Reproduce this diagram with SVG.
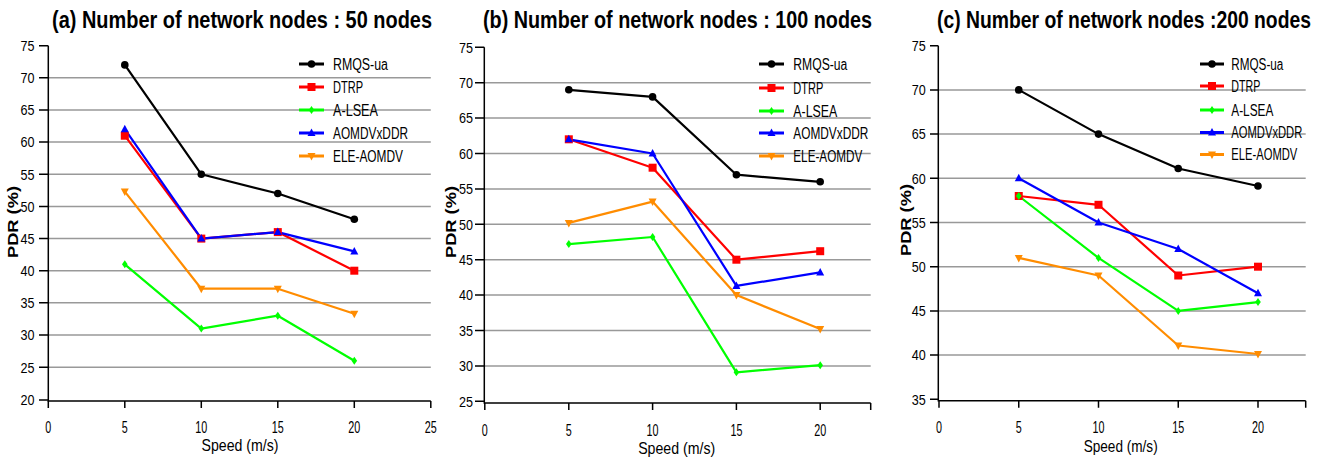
<svg xmlns="http://www.w3.org/2000/svg" xmlns:xlink="http://www.w3.org/1999/xlink" width="1324" height="463" viewBox="0 0 1324 463">
<style>
text{font-family:"Liberation Sans",Arial,sans-serif;fill:#000}
.title{font-size:24px;font-weight:bold}
.yl{font-size:15px;text-anchor:end}
.xl{font-size:17px;text-anchor:middle}
.xt{font-size:17px;text-anchor:middle}
.yt{font-size:14px;font-weight:bold;text-anchor:middle}
.lg{font-size:16px}
.grid{stroke:#999;stroke-width:1.5}
.axis{stroke:#000;stroke-width:1.5;fill:none}
.s{fill:none;stroke-width:2.2;stroke-linejoin:round}
.lgl{stroke-width:3}
.k{stroke:#000}.r{stroke:#f00}.g{stroke:#0f0}.b{stroke:#00f}.o{stroke:#ff8c00}
</style>
<defs>
<circle id="mc" r="3.8" fill="#000"/>
<rect id="ms" x="-4" y="-4" width="8" height="8" fill="#f00"/>
<path id="md" d="M0,-4 L2.8,0 L0,4 L-2.8,0Z" fill="#0f0"/>
<path id="mu" d="M0,-4.5 L4,3 L-4,3Z" fill="#00f"/>
<path id="mv" d="M0,4.5 L4,-3 L-4,-3Z" fill="#ff8c00"/>
</defs>
<rect width="1324" height="463" fill="#fff"/>

<!-- Chart A -->
<g id="chart-a">
<text class="title" x="52" y="28" textLength="380" lengthAdjust="spacingAndGlyphs">(a) Number of network nodes : 50 nodes</text>
<g id="grid-a">
<line class="grid" x1="48.3" y1="367.15" x2="430.8" y2="367.15"/>
<line class="grid" x1="48.3" y1="335" x2="430.8" y2="335"/>
<line class="grid" x1="48.3" y1="302.85" x2="430.8" y2="302.85"/>
<line class="grid" x1="48.3" y1="270.7" x2="430.8" y2="270.7"/>
<line class="grid" x1="48.3" y1="238.55" x2="430.8" y2="238.55"/>
<line class="grid" x1="48.3" y1="206.4" x2="430.8" y2="206.4"/>
<line class="grid" x1="48.3" y1="174.25" x2="430.8" y2="174.25"/>
<line class="grid" x1="48.3" y1="142.1" x2="430.8" y2="142.1"/>
<line class="grid" x1="48.3" y1="109.95" x2="430.8" y2="109.95"/>
<line class="grid" x1="48.3" y1="77.8" x2="430.8" y2="77.8"/>
</g>
<g id="axes-a">
<path class="axis" d="M48.3,45.7 V401 H430.8"/>
<path class="axis" d="M39,400 H48.3 M39,367.15 H48.3 M39,335 H48.3 M39,302.85 H48.3 M39,270.7 H48.3 M39,238.55 H48.3 M39,206.4 H48.3 M39,174.25 H48.3 M39,142.1 H48.3 M39,109.95 H48.3 M39,77.8 H48.3 M39,45.7 H48.3"/>
<path class="axis" d="M48.3,401 V408 M124.8,401 V408 M201.3,401 V408 M277.8,401 V408 M354.3,401 V408 M430.8,401 V408"/>
<text class="yl" x="34.5" y="405.3" textLength="14" lengthAdjust="spacingAndGlyphs">20</text>
<text class="yl" x="34.5" y="372.5" textLength="14" lengthAdjust="spacingAndGlyphs">25</text>
<text class="yl" x="34.5" y="340.3" textLength="14" lengthAdjust="spacingAndGlyphs">30</text>
<text class="yl" x="34.5" y="308.2" textLength="14" lengthAdjust="spacingAndGlyphs">35</text>
<text class="yl" x="34.5" y="276" textLength="14" lengthAdjust="spacingAndGlyphs">40</text>
<text class="yl" x="34.5" y="243.9" textLength="14" lengthAdjust="spacingAndGlyphs">45</text>
<text class="yl" x="34.5" y="211.7" textLength="14" lengthAdjust="spacingAndGlyphs">50</text>
<text class="yl" x="34.5" y="179.6" textLength="14" lengthAdjust="spacingAndGlyphs">55</text>
<text class="yl" x="34.5" y="147.4" textLength="14" lengthAdjust="spacingAndGlyphs">60</text>
<text class="yl" x="34.5" y="115.3" textLength="14" lengthAdjust="spacingAndGlyphs">65</text>
<text class="yl" x="34.5" y="83.1" textLength="14" lengthAdjust="spacingAndGlyphs">70</text>
<text class="yl" x="34.5" y="51" textLength="14" lengthAdjust="spacingAndGlyphs">75</text>
<text class="xl" x="48.3" y="432.5" textLength="6" lengthAdjust="spacingAndGlyphs">0</text>
<text class="xl" x="124.8" y="432.5" textLength="6" lengthAdjust="spacingAndGlyphs">5</text>
<text class="xl" x="201.3" y="432.5" textLength="12" lengthAdjust="spacingAndGlyphs">10</text>
<text class="xl" x="277.8" y="432.5" textLength="12" lengthAdjust="spacingAndGlyphs">15</text>
<text class="xl" x="354.3" y="432.5" textLength="12" lengthAdjust="spacingAndGlyphs">20</text>
<text class="xl" x="430.8" y="432.5" textLength="12" lengthAdjust="spacingAndGlyphs">25</text>
<text class="xt" x="240" y="450.5" textLength="77" lengthAdjust="spacingAndGlyphs">Speed (m/s)</text>
<text class="yt" transform="translate(17.5,222) rotate(-90)" textLength="72" lengthAdjust="spacingAndGlyphs">PDR (%)</text>
</g>
<g id="series-a">
<polyline class="s k" points="124.8,64.9 201.3,174.3 277.8,193.5 354.3,219.3"/>
<polyline class="s r" points="124.8,135.7 201.3,238.6 277.8,232.1 354.3,270.7"/>
<polyline class="s g" points="124.8,264.3 201.3,328.6 277.8,315.7 354.3,360.7"/>
<polyline class="s b" points="124.8,129.2 201.3,238.6 277.8,232.1 354.3,251.4"/>
<polyline class="s o" points="124.8,191.6 201.3,288.7 277.8,288.7 354.3,313.8"/>
<use href="#mc" x="124.8" y="64.9"/><use href="#mc" x="201.3" y="174.3"/><use href="#mc" x="277.8" y="193.5"/><use href="#mc" x="354.3" y="219.3"/>
<use href="#ms" x="124.8" y="135.7"/><use href="#ms" x="201.3" y="238.6"/><use href="#ms" x="277.8" y="232.1"/><use href="#ms" x="354.3" y="270.7"/>
<use href="#md" x="124.8" y="264.3"/><use href="#md" x="201.3" y="328.6"/><use href="#md" x="277.8" y="315.7"/><use href="#md" x="354.3" y="360.7"/>
<use href="#mu" x="124.8" y="129.2"/><use href="#mu" x="201.3" y="238.6"/><use href="#mu" x="277.8" y="232.1"/><use href="#mu" x="354.3" y="251.4"/>
<use href="#mv" x="124.8" y="191.6"/><use href="#mv" x="201.3" y="288.7"/><use href="#mv" x="277.8" y="288.7"/><use href="#mv" x="354.3" y="313.8"/>
</g>
<g id="legend-a">
<line class="lgl k" x1="299" y1="64" x2="324" y2="64"/><use href="#mc" x="311.5" y="64"/>
<text class="lg" x="333" y="69.8" textLength="55" lengthAdjust="spacingAndGlyphs">RMQS-ua</text>
<line class="lgl r" x1="299" y1="87" x2="324" y2="87"/><use href="#ms" x="311.5" y="87"/>
<text class="lg" x="333" y="92.8" textLength="30" lengthAdjust="spacingAndGlyphs">DTRP</text>
<line class="lgl g" x1="299" y1="110" x2="324" y2="110"/><use href="#md" x="311.5" y="110"/>
<text class="lg" x="333" y="115.8" textLength="45" lengthAdjust="spacingAndGlyphs">A-LSEA</text>
<line class="lgl b" x1="299" y1="133" x2="324" y2="133"/><use href="#mu" x="311.5" y="133"/>
<text class="lg" x="333" y="138.8" textLength="75" lengthAdjust="spacingAndGlyphs">AOMDVxDDR</text>
<line class="lgl o" x1="299" y1="156" x2="324" y2="156"/><use href="#mv" x="311.5" y="156"/>
<text class="lg" x="333" y="161.8" textLength="70" lengthAdjust="spacingAndGlyphs">ELE-AOMDV</text>
</g>
</g>

<!-- Chart B -->
<g id="chart-b">
<text class="title" x="483" y="28" textLength="389" lengthAdjust="spacingAndGlyphs">(b) Number of network nodes : 100 nodes</text>
<g id="grid-b">
<line class="grid" x1="484.3" y1="365.9" x2="870.7" y2="365.9"/>
<line class="grid" x1="484.3" y1="330.5" x2="870.7" y2="330.5"/>
<line class="grid" x1="484.3" y1="295.1" x2="870.7" y2="295.1"/>
<line class="grid" x1="484.3" y1="259.7" x2="870.7" y2="259.7"/>
<line class="grid" x1="484.3" y1="224.3" x2="870.7" y2="224.3"/>
<line class="grid" x1="484.3" y1="188.9" x2="870.7" y2="188.9"/>
<line class="grid" x1="484.3" y1="153.5" x2="870.7" y2="153.5"/>
<line class="grid" x1="484.3" y1="118.1" x2="870.7" y2="118.1"/>
<line class="grid" x1="484.3" y1="82.7" x2="870.7" y2="82.7"/>
</g>
<g id="axes-b">
<path class="axis" d="M484.3,47.3 V403 H870.7"/>
<path class="axis" d="M475,401.3 H484.3 M475,365.9 H484.3 M475,330.5 H484.3 M475,295.1 H484.3 M475,259.7 H484.3 M475,224.3 H484.3 M475,188.9 H484.3 M475,153.5 H484.3 M475,118.1 H484.3 M475,82.7 H484.3 M475,47.3 H484.3"/>
<path class="axis" d="M484.8,403 V410 M568.8,403 V410 M652.6,403 V410 M736.4,403 V410 M820.2,403 V410 M870.7,403 V410"/>
<text class="yl" x="473" y="406.6" textLength="14" lengthAdjust="spacingAndGlyphs">25</text>
<text class="yl" x="473" y="371.2" textLength="14" lengthAdjust="spacingAndGlyphs">30</text>
<text class="yl" x="473" y="335.8" textLength="14" lengthAdjust="spacingAndGlyphs">35</text>
<text class="yl" x="473" y="300.4" textLength="14" lengthAdjust="spacingAndGlyphs">40</text>
<text class="yl" x="473" y="265" textLength="14" lengthAdjust="spacingAndGlyphs">45</text>
<text class="yl" x="473" y="229.6" textLength="14" lengthAdjust="spacingAndGlyphs">50</text>
<text class="yl" x="473" y="194.2" textLength="14" lengthAdjust="spacingAndGlyphs">55</text>
<text class="yl" x="473" y="158.8" textLength="14" lengthAdjust="spacingAndGlyphs">60</text>
<text class="yl" x="473" y="123.4" textLength="14" lengthAdjust="spacingAndGlyphs">65</text>
<text class="yl" x="473" y="88" textLength="14" lengthAdjust="spacingAndGlyphs">70</text>
<text class="yl" x="473" y="52.6" textLength="14" lengthAdjust="spacingAndGlyphs">75</text>
<text class="xl" x="484.8" y="435.5" textLength="6" lengthAdjust="spacingAndGlyphs">0</text>
<text class="xl" x="568.8" y="435.5" textLength="6" lengthAdjust="spacingAndGlyphs">5</text>
<text class="xl" x="652.6" y="435.5" textLength="12" lengthAdjust="spacingAndGlyphs">10</text>
<text class="xl" x="736.4" y="435.5" textLength="12" lengthAdjust="spacingAndGlyphs">15</text>
<text class="xl" x="820.2" y="435.5" textLength="12" lengthAdjust="spacingAndGlyphs">20</text>
<text class="xt" x="676.7" y="453.5" textLength="77" lengthAdjust="spacingAndGlyphs">Speed (m/s)</text>
<text class="yt" transform="translate(455.5,222) rotate(-90)" textLength="72" lengthAdjust="spacingAndGlyphs">PDR (%)</text>
</g>
<g id="series-b">
<polyline class="s k" points="568.8,89.8 652.6,96.9 736.4,174.7 820.2,181.8"/>
<polyline class="s r" points="568.8,139.3 652.6,167.7 736.4,259.7 820.2,251.2"/>
<polyline class="s g" points="568.8,244.1 652.6,237 736.4,372.3 820.2,365.2"/>
<polyline class="s b" points="568.8,139.3 652.6,153.5 736.4,285.9 820.2,272.4"/>
<polyline class="s o" points="568.8,222.9 652.6,201.6 736.4,295.1 820.2,329.1"/>
<use href="#mc" x="568.8" y="89.8"/><use href="#mc" x="652.6" y="96.9"/><use href="#mc" x="736.4" y="174.7"/><use href="#mc" x="820.2" y="181.8"/>
<use href="#ms" x="568.8" y="139.3"/><use href="#ms" x="652.6" y="167.7"/><use href="#ms" x="736.4" y="259.7"/><use href="#ms" x="820.2" y="251.2"/>
<use href="#md" x="568.8" y="244.1"/><use href="#md" x="652.6" y="237"/><use href="#md" x="736.4" y="372.3"/><use href="#md" x="820.2" y="365.2"/>
<use href="#mu" x="568.8" y="139.3"/><use href="#mu" x="652.6" y="153.5"/><use href="#mu" x="736.4" y="285.9"/><use href="#mu" x="820.2" y="272.4"/>
<use href="#mv" x="568.8" y="222.9"/><use href="#mv" x="652.6" y="201.6"/><use href="#mv" x="736.4" y="295.1"/><use href="#mv" x="820.2" y="329.1"/>
</g>
<g id="legend-b">
<line class="lgl k" x1="759" y1="64" x2="784" y2="64"/><use href="#mc" x="771.5" y="64"/>
<text class="lg" x="793.3" y="69.8" textLength="54" lengthAdjust="spacingAndGlyphs">RMQS-ua</text>
<line class="lgl r" x1="759" y1="88" x2="784" y2="88"/><use href="#ms" x="771.5" y="88"/>
<text class="lg" x="793.3" y="93.8" textLength="30" lengthAdjust="spacingAndGlyphs">DTRP</text>
<line class="lgl g" x1="759" y1="111" x2="784" y2="111"/><use href="#md" x="771.5" y="111"/>
<text class="lg" x="793.3" y="116.8" textLength="44" lengthAdjust="spacingAndGlyphs">A-LSEA</text>
<line class="lgl b" x1="759" y1="133" x2="784" y2="133"/><use href="#mu" x="771.5" y="133"/>
<text class="lg" x="793.3" y="138.8" textLength="75" lengthAdjust="spacingAndGlyphs">AOMDVxDDR</text>
<line class="lgl o" x1="759" y1="156" x2="784" y2="156"/><use href="#mv" x="771.5" y="156"/>
<text class="lg" x="793.3" y="161.8" textLength="69" lengthAdjust="spacingAndGlyphs">ELE-AOMDV</text>
</g>
</g>

<!-- Chart C -->
<g id="chart-c">
<text class="title" x="937" y="28" textLength="374" lengthAdjust="spacingAndGlyphs">(c) Number of network nodes :200 nodes</text>
<g id="grid-c">
<line class="grid" x1="938.3" y1="355.1" x2="1305.7" y2="355.1"/>
<line class="grid" x1="938.3" y1="310.9" x2="1305.7" y2="310.9"/>
<line class="grid" x1="938.3" y1="266.7" x2="1305.7" y2="266.7"/>
<line class="grid" x1="938.3" y1="222.5" x2="1305.7" y2="222.5"/>
<line class="grid" x1="938.3" y1="178.3" x2="1305.7" y2="178.3"/>
<line class="grid" x1="938.3" y1="134.1" x2="1305.7" y2="134.1"/>
<line class="grid" x1="938.3" y1="89.9" x2="1305.7" y2="89.9"/>
</g>
<g id="axes-c">
<path class="axis" d="M938.3,45.7 V400.7 H1305.7"/>
<path class="axis" d="M930,399.3 H938.3 M930,355.1 H938.3 M930,310.9 H938.3 M930,266.7 H938.3 M930,222.5 H938.3 M930,178.3 H938.3 M930,134.1 H938.3 M930,89.9 H938.3 M930,45.7 H938.3"/>
<path class="axis" d="M939,400.7 V407.7 M1018.75,400.7 V407.7 M1098.5,400.7 V407.7 M1178.25,400.7 V407.7 M1258,400.7 V407.7 M1305.7,400.7 V407.7"/>
<text class="yl" x="925.7" y="404.6" textLength="14" lengthAdjust="spacingAndGlyphs">35</text>
<text class="yl" x="925.7" y="360.4" textLength="14" lengthAdjust="spacingAndGlyphs">40</text>
<text class="yl" x="925.7" y="316.2" textLength="14" lengthAdjust="spacingAndGlyphs">45</text>
<text class="yl" x="925.7" y="272" textLength="14" lengthAdjust="spacingAndGlyphs">50</text>
<text class="yl" x="925.7" y="227.8" textLength="14" lengthAdjust="spacingAndGlyphs">55</text>
<text class="yl" x="925.7" y="183.6" textLength="14" lengthAdjust="spacingAndGlyphs">60</text>
<text class="yl" x="925.7" y="139.4" textLength="14" lengthAdjust="spacingAndGlyphs">65</text>
<text class="yl" x="925.7" y="95.2" textLength="14" lengthAdjust="spacingAndGlyphs">70</text>
<text class="yl" x="925.7" y="51" textLength="14" lengthAdjust="spacingAndGlyphs">75</text>
<text class="xl" x="939" y="433.2" textLength="6" lengthAdjust="spacingAndGlyphs">0</text>
<text class="xl" x="1018.75" y="433.2" textLength="6" lengthAdjust="spacingAndGlyphs">5</text>
<text class="xl" x="1098.5" y="433.2" textLength="12" lengthAdjust="spacingAndGlyphs">10</text>
<text class="xl" x="1178.25" y="433.2" textLength="12" lengthAdjust="spacingAndGlyphs">15</text>
<text class="xl" x="1258" y="433.2" textLength="12" lengthAdjust="spacingAndGlyphs">20</text>
<text class="xt" x="1120.7" y="452" textLength="74" lengthAdjust="spacingAndGlyphs">Speed (m/s)</text>
<text class="yt" transform="translate(911,220) rotate(-90)" textLength="72" lengthAdjust="spacingAndGlyphs">PDR (%)</text>
</g>
<g id="series-c">
<polyline class="s k" points="1018.75,89.9 1098.5,134.1 1178.25,168.5 1258,186"/>
<polyline class="s r" points="1018.75,196 1098.5,204.8 1178.25,275.5 1258,266.7"/>
<polyline class="s g" points="1018.75,196 1098.5,257.9 1178.25,310.9 1258,302.1"/>
<polyline class="s b" points="1018.75,178.3 1098.5,222.5 1178.25,249 1258,293.2"/>
<polyline class="s o" points="1018.75,257.9 1098.5,275.5 1178.25,345.5 1258,354"/>
<use href="#mc" x="1018.75" y="89.9"/><use href="#mc" x="1098.5" y="134.1"/><use href="#mc" x="1178.25" y="168.5"/><use href="#mc" x="1258" y="186"/>
<use href="#ms" x="1018.75" y="196"/><use href="#ms" x="1098.5" y="204.8"/><use href="#ms" x="1178.25" y="275.5"/><use href="#ms" x="1258" y="266.7"/>
<use href="#md" x="1018.75" y="196"/><use href="#md" x="1098.5" y="257.9"/><use href="#md" x="1178.25" y="310.9"/><use href="#md" x="1258" y="302.1"/>
<use href="#mu" x="1018.75" y="178.3"/><use href="#mu" x="1098.5" y="222.5"/><use href="#mu" x="1178.25" y="249"/><use href="#mu" x="1258" y="293.2"/>
<use href="#mv" x="1018.75" y="257.9"/><use href="#mv" x="1098.5" y="275.5"/><use href="#mv" x="1178.25" y="345.5"/><use href="#mv" x="1258" y="354"/>
</g>
<g id="legend-c">
<line class="lgl k" x1="1200" y1="64" x2="1224" y2="64"/><use href="#mc" x="1212" y="64"/>
<text class="lg" x="1231.3" y="69.8" textLength="52" lengthAdjust="spacingAndGlyphs">RMQS-ua</text>
<line class="lgl r" x1="1200" y1="86" x2="1224" y2="86"/><use href="#ms" x="1212" y="86"/>
<text class="lg" x="1231.3" y="91.8" textLength="29" lengthAdjust="spacingAndGlyphs">DTRP</text>
<line class="lgl g" x1="1200" y1="110" x2="1224" y2="110"/><use href="#md" x="1212" y="110"/>
<text class="lg" x="1231.3" y="115.8" textLength="42" lengthAdjust="spacingAndGlyphs">A-LSEA</text>
<line class="lgl b" x1="1200" y1="132.5" x2="1224" y2="132.5"/><use href="#mu" x="1212" y="132.5"/>
<text class="lg" x="1231.3" y="138.3" textLength="71" lengthAdjust="spacingAndGlyphs">AOMDVxDDR</text>
<line class="lgl o" x1="1200" y1="154.5" x2="1224" y2="154.5"/><use href="#mv" x="1212" y="154.5"/>
<text class="lg" x="1231.3" y="160.3" textLength="66" lengthAdjust="spacingAndGlyphs">ELE-AOMDV</text>
</g>
</g>
</svg>
